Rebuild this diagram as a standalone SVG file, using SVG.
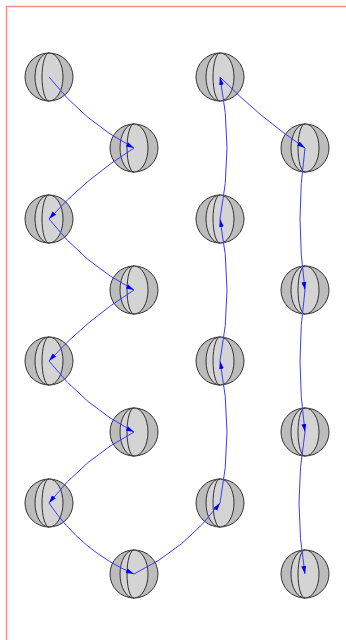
<svg xmlns="http://www.w3.org/2000/svg" xmlns:xlink="http://www.w3.org/1999/xlink" width="346" height="640" viewBox="0 0 346 640">
  <style>
    .frame { fill: none; stroke: #ff8c8c; stroke-width: 1.5; }
    .shell { fill: #bcbcbc; stroke: #333; stroke-width: 1; }
    .band { fill: #d4d4d4; stroke: #333; stroke-width: 1; }
    .meridian { fill: none; stroke: #333; stroke-width: 1; }
    .edge { fill: none; stroke: #3a3aff; stroke-width: 1; marker-end: url(#arrow); }
  </style>
  <defs>
    <marker id="arrow" markerUnits="userSpaceOnUse" markerWidth="10" markerHeight="8" refX="8" refY="3" orient="auto">
      <path d="M0,0.6 L8,3 L0,5.4 z" fill="#0000ff"/>
    </marker>
    <!-- sphere glyph centred on the origin -->
    <g id="sphere">
      <circle class="shell" r="24"/>
      <ellipse class="band" rx="14" ry="24"/>
      <path class="meridian" d="M0,-24 A7,24 0 0 0 0,24"/>
    </g>
  </defs>

  <rect class="frame" x="6.5" y="6.5" width="400" height="700"/>

  <g id="nodes">
    <g id="n1"><use xlink:href="#sphere" x="49" y="77"/></g>
    <g id="n2"><use xlink:href="#sphere" x="134" y="148"/></g>
    <g id="n3"><use xlink:href="#sphere" x="49" y="219"/></g>
    <g id="n4"><use xlink:href="#sphere" x="134" y="290"/></g>
    <g id="n5"><use xlink:href="#sphere" x="49" y="361"/></g>
    <g id="n6"><use xlink:href="#sphere" x="134" y="432"/></g>
    <g id="n7"><use xlink:href="#sphere" x="49" y="503"/></g>
    <g id="n8"><use xlink:href="#sphere" x="134" y="574"/></g>
    <g id="n9"><use xlink:href="#sphere" x="220" y="503"/></g>
    <g id="n10"><use xlink:href="#sphere" x="220" y="361"/></g>
    <g id="n11"><use xlink:href="#sphere" x="220" y="219"/></g>
    <g id="n12"><use xlink:href="#sphere" x="220" y="77"/></g>
    <g id="n13"><use xlink:href="#sphere" x="305" y="148"/></g>
    <g id="n14"><use xlink:href="#sphere" x="305" y="290"/></g>
    <g id="n15"><use xlink:href="#sphere" x="305" y="432"/></g>
    <g id="n16"><use xlink:href="#sphere" x="305" y="574"/></g>
  </g>

  <g id="edges">
    <path class="edge" d="M49,77 Q84,122 134,148"/>
    <path class="edge" d="M134,148 Q86,178 49,219"/>
    <path class="edge" d="M49,219 Q84,264 134,290"/>
    <path class="edge" d="M134,290 Q86,320 49,361"/>
    <path class="edge" d="M49,361 Q84,406 134,432"/>
    <path class="edge" d="M134,432 Q84,458 49,503"/>
    <path class="edge" d="M49,503 Q81,551 134,574"/>
    <path class="edge" d="M134,574 Q186,549 220,503"/>
    <path class="edge" d="M220,503 Q234,432 220,361"/>
    <path class="edge" d="M220,361 Q234,290 220,219"/>
    <path class="edge" d="M220,219 Q234,148 220,77"/>
    <path class="edge" d="M220,77 Q259,117 305,148"/>
    <path class="edge" d="M305,148 Q295,219 305,290"/>
    <path class="edge" d="M305,290 Q295,361 305,432"/>
    <path class="edge" d="M305,432 Q293,503 305,574"/>
  </g>
</svg>
